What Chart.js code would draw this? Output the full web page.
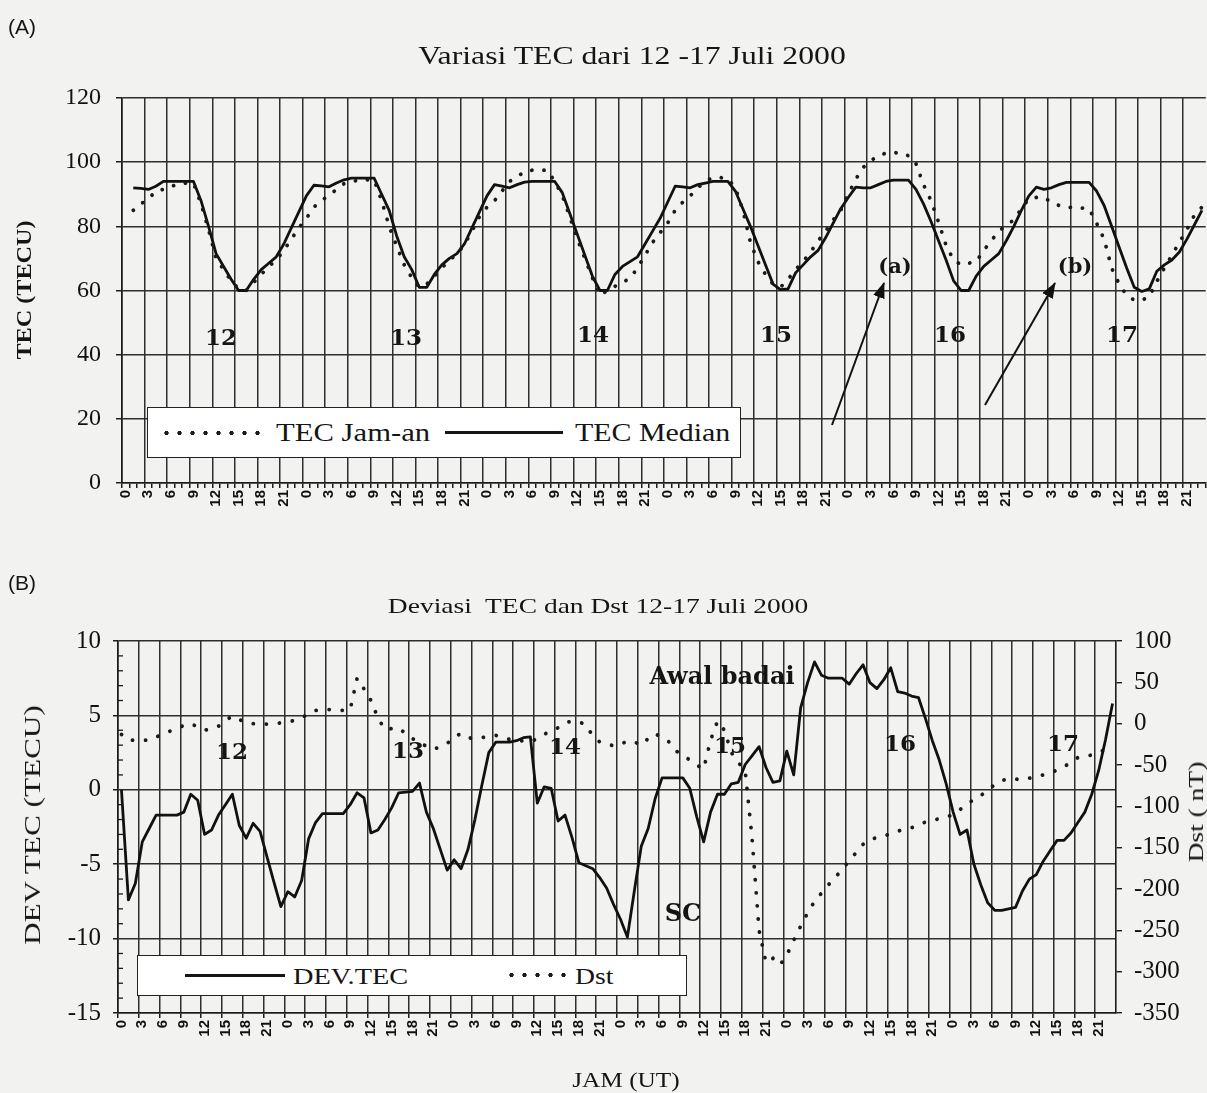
<!DOCTYPE html>
<html>
<head>
<meta charset="utf-8">
<script src="https://cdn.jsdelivr.net/npm/chart.js@4.4.0/dist/chart.umd.min.js"></script>
<style>
html,body{margin:0;padding:0;width:1207px;height:1093px;overflow:hidden;background:#f2f2f1;}
#wrap{position:relative;width:1207px;height:1093px;overflow:hidden;}
canvas{position:absolute;left:0;}
#cA{top:0;}
#cB{top:560px;}
.t{position:absolute;white-space:nowrap;color:#151515;line-height:1;transform-origin:50% 50%;}
.c{transform:translate(-50%,-50%) scaleX(var(--sx,1));}
.l{transform:translateY(-50%) scaleX(var(--sx,1));transform-origin:0 50%;}
.r{transform:translate(-50%,-50%) rotate(-90deg) scaleX(var(--sx,1));}
.serif{font-family:"Liberation Serif","Times New Roman",serif;}
.sans{font-family:"Liberation Sans",Arial,sans-serif;}
.bk{font-family:"DejaVu Serif",serif;font-weight:bold;}
.box{position:absolute;background:#fff;border:1.5px solid #222;box-sizing:border-box;}
.dots{position:absolute;height:6px;background:radial-gradient(circle,#1a1a1a 1.9px,rgba(0,0,0,0) 2.4px) 0 0/13px 6px repeat-x;}
.solid{position:absolute;height:3px;background:#151515;}
svg{position:absolute;left:0;top:0;}
</style>
</head>
<body>
<div id="wrap">
<canvas id="cA" width="1222" height="560"></canvas>
<canvas id="cB" width="1207" height="533"></canvas>

<!-- Panel A texts -->
<div class="t sans l" style="left:8px;top:26px;font-size:21px">(A)</div>
<div class="t serif c" style="left:632px;top:56px;font-size:26px;--sx:1.22">Variasi TEC dari 12 -17 Juli 2000</div>
<div class="t serif r" style="left:24px;top:290px;font-size:22px;font-weight:bold;--sx:1.1">TEC (TECU)</div>
<div class="box" style="left:147px;top:407px;width:594px;height:51px"></div>
<div class="dots" style="left:160px;top:430px;width:104px"></div>
<div class="t serif l" style="left:276px;top:433px;font-size:26px;--sx:1.18">TEC Jam-an</div>
<div class="solid" style="left:445px;top:431px;width:118px"></div>
<div class="t serif l" style="left:575px;top:433px;font-size:26px;--sx:1.15">TEC Median</div>
<div class="t bk c" style="left:221px;top:336px;font-size:23px">12</div>
<div class="t bk c" style="left:406px;top:336px;font-size:23px">13</div>
<div class="t bk c" style="left:593px;top:333px;font-size:23px">14</div>
<div class="t bk c" style="left:776px;top:333px;font-size:23px">15</div>
<div class="t bk c" style="left:950px;top:333px;font-size:23px">16</div>
<div class="t bk c" style="left:1122px;top:333px;font-size:23px">17</div>
<div class="t bk c" style="left:895px;top:265px;font-size:21px">(a)</div>
<div class="t bk c" style="left:1075px;top:265px;font-size:21px">(b)</div>

<!-- Panel B texts -->
<div class="t sans l" style="left:8px;top:582px;font-size:21px">(B)</div>
<div class="t serif c" style="left:598px;top:606px;font-size:22px;--sx:1.25">Deviasi&nbsp; TEC dan Dst 12-17 Juli 2000</div>
<div class="t serif r" style="left:32px;top:825px;font-size:24px;--sx:1.3">DEV TEC (TECU)</div>
<div class="t serif r" style="left:1196px;top:812px;font-size:22px;--sx:1.25">Dst ( nT)</div>
<div class="t serif c" style="left:626px;top:1080px;font-size:22px;--sx:1.15">JAM (UT)</div>
<div class="box" style="left:137px;top:955px;width:550px;height:41px"></div>
<div class="solid" style="left:185px;top:974px;width:100px"></div>
<div class="t serif l" style="left:293px;top:976px;font-size:24px;--sx:1.18">DEV.TEC</div>
<div class="dots" style="left:505px;top:972px;width:66px"></div>
<div class="t serif l" style="left:575px;top:976px;font-size:24px;--sx:1.15">Dst</div>
<div class="t bk c" style="left:722px;top:676px;font-size:24px">Awal badai</div>
<div class="t bk c" style="left:683px;top:913px;font-size:24px">SC</div>
<div class="t bk c" style="left:232px;top:750px;font-size:23px">12</div>
<div class="t bk c" style="left:408px;top:749px;font-size:23px">13</div>
<div class="t bk c" style="left:565px;top:745px;font-size:23px">14</div>
<div class="t bk c" style="left:730px;top:744px;font-size:23px">15</div>
<div class="t bk c" style="left:900px;top:742px;font-size:23px">16</div>
<div class="t bk c" style="left:1063px;top:742px;font-size:23px">17</div>

<svg width="1207" height="1093">
<defs>
<marker id="ah" markerWidth="16" markerHeight="12" refX="15" refY="6" orient="auto" markerUnits="userSpaceOnUse">
<path d="M0,0 L16,6 L0,12 z" fill="#111"/>
</marker>
</defs>
<line x1="832" y1="425" x2="884" y2="283" stroke="#111" stroke-width="2" marker-end="url(#ah)"/>
<line x1="985" y1="405" x2="1055" y2="283" stroke="#111" stroke-width="2" marker-end="url(#ah)"/>
</svg>
</div>

<script>
// ---------- data ----------
const days = [12, 13, 14, 15, 16, 17];
const hourLabels = ['0','1','2','3','4','5','6','7','8','9','10','11','12','13','14','15','16','17','18','19','20','21','22','23'];

// TEC Jam-an (hourly TEC), TECU
const tecHourly = [
  null,85,87,88.5,91,91.5,92.5,93,93.5,93.5,87,79,70,66.5,63,60.5,60,62.5,65,67.5,69.5,72.5,76,79.5,
  82.5,86,88,89.7,91.5,93.3,94,94.4,94.5,94.5,88,80,73.8,68,64,61,62,64.5,67,69.5,71.3,74.4,78.5,83,
  86,88,91,94,95.5,97,97.5,97.5,97.5,94,89.6,83,76,70,64,58.5,60,61.3,62.5,63.8,67,71,75,78,
  81,85,87.5,89.5,92,94,95.2,95.2,94.8,92,85,75,69,65,62,61,63.5,66.5,69,72,75.5,78.5,82,85,
  90,94.7,98.4,100.5,102,102.8,103,102.8,102,99.5,93,88,81.3,74,69.5,68,68.5,69,72.5,75.5,78.5,80.3,82,85.5,
  88.6,89,89,87.5,86.5,86,85.8,85.7,85.5,81,76,67,62,58.5,57,57,58,62.8,67,71,75,79,83.5,86
];
// TEC Median, TECU
const tecMedian = [
  null,92,91.8,91.5,92.5,94,94,94,94,94,88,80,71.5,67.5,63.5,60,60,63.5,66.5,68.5,70.5,74.5,79.5,84.5,
  89.5,92.8,92.6,92.3,93.5,94.5,95,95,95,95,90,85,77,70.5,66.5,61,61,65,68,70,71.5,74.5,79.5,84.5,
  89.5,93,92.5,92,93,93.8,94,94,94,94,90.5,84,77.5,71,64.5,60,60,65,67.5,69,70.5,74.5,78.5,82.5,
  87.5,92.5,92.3,92,93,93.5,94,94,94,91,85.5,80,74,68,62,60.3,60.5,65.5,68,70.5,72.5,76.5,81,85.5,
  89,92.2,92,92,93,94,94.4,94.4,94.4,91.5,87,81.5,75.5,69.5,63,60,60,64.5,67.5,69.5,71.5,75.5,80,85,
  89.5,92.2,91.5,92,93,93.7,93.7,93.7,93.7,91,86.5,80,73.5,67,61,59.7,60.5,66,68,69.5,72,76,80.5,85
];
// DEV TEC, TECU
const devTec = [
  0,-7.4,-6.3,-3.5,-2.6,-1.7,-1.7,-1.7,-1.7,-1.5,-0.3,-0.7,-3.0,-2.7,-1.7,-1.0,-0.3,-2.4,-3.25,-2.25,-2.8,-4.5,-6.2,-7.85,
  -6.85,-7.2,-6.1,-3.3,-2.2,-1.6,-1.6,-1.6,-1.6,-1.0,-0.2,-0.55,-2.9,-2.7,-2.0,-1.2,-0.2,-0.15,-0.1,0.45,-1.5,-2.6,-4.0,-5.4,
  -4.7,-5.3,-4.0,-2.0,0.3,2.5,3.2,3.2,3.2,3.3,3.5,3.55,-0.9,0.2,0.1,-2.1,-1.7,-3.2,-4.9,-5.1,-5.3,-5.9,-6.6,-7.7,
  -8.7,-9.9,-6.8,-3.8,-2.6,-0.6,0.8,0.8,0.8,0.8,0.1,-1.8,-3.5,-1.5,-0.3,-0.3,0.4,0.5,1.7,2.3,2.9,1.5,0.5,0.6,
  2.6,1.0,5.5,7.2,8.6,7.7,7.5,7.5,7.5,7.1,7.8,8.4,7.2,6.8,7.4,8.2,6.6,6.5,6.3,6.2,4.8,3.3,2.0,0.4,
  -1.5,-3.0,-2.7,-5.0,-6.4,-7.6,-8.1,-8.1,-8.0,-7.9,-6.8,-6.0,-5.7,-4.8,-4.1,-3.4,-3.4,-2.9,-2.2,-1.5,-0.3,1.3,3.4,5.8
];
// Dst, nT
const dst = [
  -13,-20,-20,-20,-20,-16,-13,-9,-6,-2,0,-4,-8,-6,-3,4,9,5,1,0,-1,-0.5,0,1,
  2,4,7,12,16,17,17,17,16,17,55,42,28,7,-7,-6,-5,-12,-18,-24,-27,-31,-28,-24,
  -16,-12,-17,-18,-17,-15,-14,-17,-19,-20,-21,-22,-18,-13,-8,-5,1,3,2,-1,-15,-22,-24,-27,
  -25,-21,-22,-26,-18,-12,-17,-22,-33,-38,-44,-50,-55,-20,3,-8,-35,-47,-57,-140,-250,-289,-284,-292,
  -280,-262,-245,-229,-215,-205,-195,-186,-176,-166,-156,-146,-140,-138,-136,-133,-130,-128,-126,-122,-119,-117,-115,-113,
  -110,-104,-97,-92,-87,-80,-74,-69,-66.5,-67,-68,-66,-64,-62,-60,-56,-52,-47,-41,-39,-38,-35,-31,-30
];

// ---------- chart helpers ----------
const categories = days.flatMap(() => hourLabels);
const INK = '#1c1c1c';
const GRID = '#2e2e2e';
const SERIF = "'Liberation Serif', 'Times New Roman', serif";
const SANS = "'Liberation Sans', Arial, sans-serif";
const every3 = c => (c.index !== undefined && c.index % 3 === 0) ? GRID : 'rgba(0,0,0,0)';

function xScale(height, tickCol) {
  return {
    type: 'category', offset: true,
    grid: { offset: true, color: every3, lineWidth: 1.5, tickColor: tickCol, tickLength: 5, drawTicks: true },
    border: { color: INK, width: 1.6 },
    ticks: { autoSkip: false, maxRotation: 90, minRotation: 90, padding: 2,
      font: { family: SANS, size: 15, weight: 'bold' }, color: '#111',
      callback: (v, i) => i % 3 === 0 ? categories[i] : '' },
    afterFit: s => { s.height = height; }
  };
}

const common = {
  responsive: false, animation: false, devicePixelRatio: 1,
  plugins: { legend: { display: false }, tooltip: { enabled: false }, title: { display: false } },
  elements: { point: { radius: 0 }, line: { tension: 0 } }
};

new Chart(document.getElementById('cA'), {
  type: 'line',
  data: { labels: categories, datasets: [
    { label: 'TEC Jam-an', data: tecHourly, borderColor: '#1a1a1a', borderWidth: 3.8,
      borderDash: [0.1, 12], borderCapStyle: 'round', pointRadius: 0, fill: false },
    { label: 'TEC Median', data: tecMedian, borderColor: '#111', borderWidth: 2.8,
      borderJoinStyle: 'round', pointRadius: 0, fill: false }
  ]},
  options: Object.assign({}, common, {
    layout: { padding: { top: 98, right: 10, left: 0, bottom: 0 } },
    scales: {
      x: xScale(77, INK),
      y: { min: 0, max: 120,
        ticks: { stepSize: 20, padding: 15, font: { family: SERIF, size: 24 }, color: '#111' },
        grid: { color: GRID, lineWidth: 1.5, tickLength: 6, tickColor: INK },
        border: { color: INK, width: 1.6 },
        afterFit: s => { s.width = 122; } }
    }
  })
});

const minorTicks = {
  id: 'minorTicks',
  afterDatasetsDraw(chart) {
    const y = chart.scales.y, ctx = chart.ctx, left = chart.chartArea.left;
    ctx.save(); ctx.strokeStyle = INK; ctx.lineWidth = 1.3;
    for (let v = y.min; v <= y.max; v++) {
      if (v % 5 === 0) continue;
      const py = y.getPixelForValue(v);
      ctx.beginPath(); ctx.moveTo(left, py); ctx.lineTo(left + 5, py); ctx.stroke();
    }
    ctx.restore();
  }
};

new Chart(document.getElementById('cB'), {
  type: 'line',
  data: { labels: categories, datasets: [
    { label: 'DEV.TEC', data: devTec, yAxisID: 'y', borderColor: '#111', borderWidth: 2.8,
      borderJoinStyle: 'round', pointRadius: 0, fill: false },
    { label: 'Dst', data: dst, yAxisID: 'y2', borderColor: '#1a1a1a', borderWidth: 3.8,
      borderDash: [0.1, 13], borderCapStyle: 'round', pointRadius: 0, fill: false }
  ]},
  options: Object.assign({}, common, {
    layout: { padding: { top: 81, right: 0, left: 0, bottom: 0 } },
    scales: {
      x: xScale(80, c => (c.index !== undefined && c.index % 3 === 0) ? INK : 'rgba(0,0,0,0)'),
      y: { position: 'left', min: -15, max: 10,
        ticks: { stepSize: 5, padding: 12, font: { family: SERIF, size: 25 }, color: '#111',
          callback: v => String(v) },
        grid: { color: GRID, lineWidth: 1.5, tickLength: 5, tickColor: INK },
        border: { color: INK, width: 1.6 },
        afterFit: s => { s.width = 118; } },
      y2: { position: 'right', min: -350, max: 100,
        ticks: { stepSize: 50, padding: 12, font: { family: SERIF, size: 25 }, color: '#111',
          callback: v => String(v) },
        grid: { drawOnChartArea: false, tickLength: 6, tickColor: INK, lineWidth: 1.4 },
        border: { color: INK, width: 1.6 },
        afterFit: s => { s.width = 91; } }
    }
  }),
  plugins: [minorTicks]
});
</script>
</body>
</html>
